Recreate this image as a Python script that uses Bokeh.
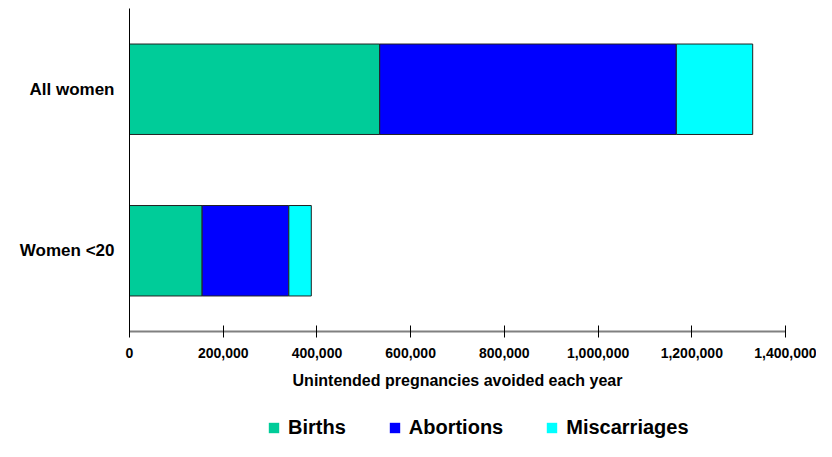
from bokeh.plotting import figure
from bokeh.layouts import column
from bokeh.models import (ColumnDataSource, FactorRange, Range1d, FixedTicker,
                          NumeralTickFormatter, Legend, LegendItem)
from bokeh.embed import file_html
from bokeh.resources import INLINE

# ---- data ----
categories = ["Women <20", "All women"]          # bottom to top
births = [155000, 534000]
abortions = [185000, 633000]
miscarriages = [48000, 163000]
series = ["Births", "Abortions", "Miscarriages"]
colors = ["#00CC99", "#0000FF", "#00FFFF"]
x_ticks = [0, 200000, 400000, 600000, 800000, 1000000, 1200000, 1400000]
x_title = "Unintended pregnancies avoided each year"

FONT = "Liberation Sans"
W = 816
MAIN_H = 405
LEG_H = 36

source = ColumnDataSource(dict(cat=categories, Births=births,
                               Abortions=abortions, Miscarriages=miscarriages))

p = figure(y_range=FactorRange(*categories), x_range=Range1d(0, 1400000),
           width=W, height=MAIN_H, output_backend="svg", toolbar_location=None,
           min_border_left=129, min_border_right=31, min_border_top=8,
           min_border_bottom=MAIN_H - 331)
p.outline_line_color = None
p.xgrid.visible = False
p.ygrid.visible = False

p.hbar_stack(series, y="cat", height=0.56, color=colors,
             line_color="#222222", line_width=1, source=source)

# x axis
xa = p.xaxis[0]
xa.ticker = FixedTicker(ticks=x_ticks)
xa.formatter = NumeralTickFormatter(format="0,0")
xa.axis_line_color = "#808080"
xa.axis_line_width = 2
xa.major_tick_line_color = "black"
xa.major_tick_in = 6
xa.major_tick_out = 6
xa.minor_tick_line_color = None
xa.major_label_standoff = 10
xa.major_label_text_font = FONT
xa.major_label_text_font_style = "bold"
xa.major_label_text_font_size = "14px"
xa.major_label_text_color = "black"
xa.axis_label = x_title
xa.axis_label_standoff = 11
xa.axis_label_text_font = FONT
xa.axis_label_text_font_style = "bold"
xa.axis_label_text_font_size = "16px"
xa.axis_label_text_color = "black"

# y axis
ya = p.yaxis[0]
ya.axis_line_color = "black"
ya.axis_line_width = 1
ya.major_tick_line_color = None
ya.major_tick_out = 0
ya.major_tick_in = 0
ya.minor_tick_line_color = None
ya.major_label_standoff = 15
ya.major_label_text_font = FONT
ya.major_label_text_font_style = "bold"
ya.major_label_text_font_size = "17px"
ya.major_label_text_color = "black"

# ---- legend strip (same series drawn with zero height, so only the legend shows) ----
lf = figure(y_range=FactorRange(*categories), x_range=Range1d(0, 1400000),
            width=W, height=LEG_H, output_backend="svg", toolbar_location=None,
            x_axis_location=None, y_axis_location=None,
            min_border_left=0, min_border_right=0, min_border_top=0, min_border_bottom=0)
lf.outline_line_color = None
lf.xgrid.visible = False
lf.ygrid.visible = False
leg_renderers = lf.hbar_stack(series, y="cat", height=0, color=colors,
                              line_color=None, source=source)

legend = Legend(items=[LegendItem(label=s, renderers=[r]) for s, r in zip(series, leg_renderers)],
                orientation="horizontal", location=(138, 2),
                glyph_width=13, glyph_height=13, label_standoff=8, spacing=42,
                padding=0, margin=0, border_line_color=None, background_fill_alpha=0,
                label_text_font=FONT, label_text_font_style="bold",
                label_text_font_size="20px", label_text_color="black")
lf.add_layout(legend)

open("out.html", "w").write(file_html(column(p, lf, spacing=0), INLINE))
